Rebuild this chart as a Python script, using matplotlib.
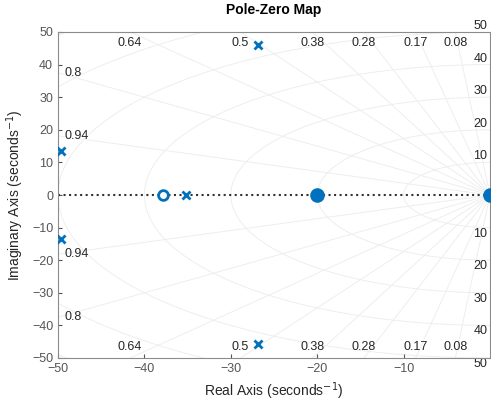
import numpy as np
import matplotlib.pyplot as plt

plt.rcParams['font.family'] = ['Liberation Sans', 'DejaVu Sans']

# poles and zeros (seconds^-1)
pole_re = [-49.7, -49.7, -35.2, -26.9, -26.9]
pole_im = [13.4, -13.4, 0.0, 46.0, -45.7]
zero_open_re = [-37.8]
zero_open_im = [0.0]
zero_fill_re = [-20.0, 0.0]
zero_fill_im = [0.0, 0.0]

zetas = [0.08, 0.17, 0.28, 0.38, 0.5, 0.64, 0.8, 0.94]
zeta_labels = ['0.08', '0.17', '0.28', '0.38', '0.5', '0.64', '0.8', '0.94']
wns = [10, 20, 30, 40, 50]
wn_labels = ['10', '20', '30', '40', '50']

blue = '#0072BD'
gridc = '#eeeeee'
txtc = '#262626'

fig = plt.figure(figsize=(4.91, 4.07), dpi=100)
ax = fig.add_axes([58 / 491, 49 / 407, 432 / 491, 326 / 407])

xlo, xhi, ylo, yhi = -50, 0, -50, 50

# damping lines
r = np.linspace(0, 100, 50)
for z in zetas:
    for s in (1, -1):
        ax.plot(-r * z, s * r * np.sqrt(1 - z ** 2), '-', color=gridc, lw=0.7, zorder=1)

# natural frequency circles
th = np.linspace(np.pi / 2, 3 * np.pi / 2, 200)
for w in wns + [60, 70]:
    ax.plot(w * np.cos(th), w * np.sin(th), '-', color=gridc, lw=0.7, zorder=1)

# damping labels on the edges
for z, lab in zip(zetas, zeta_labels):
    xt = -yhi * z / np.sqrt(1 - z ** 2)
    if xt > xlo:
        for s in (1, -1):
            ax.text(xt, s * 46.5, lab, ha='center', va='center', fontsize=9, color=txtc, zorder=2)
    else:
        yt = -xlo * np.sqrt(1 - z ** 2) / z
        for s in (1, -1):
            ax.text(-49.3, s * yt, lab, ha='left', va='center', fontsize=9, color=txtc, zorder=2)

# natural frequency labels
for w, lab in zip(wns, wn_labels):
    ax.text(-1.1, w, lab, ha='center', va='bottom', fontsize=9, color=txtc, clip_on=False, zorder=2)
    ax.text(-1.1, -w, lab, ha='center', va='top', fontsize=9, color=txtc, clip_on=False, zorder=2)

ax.plot([xlo, xhi], [0, 0], ':', color='#333333', lw=1.5, zorder=2)

ax.plot(pole_re, pole_im, 'x', color=blue, ms=6, mew=2, ls='none', zorder=4)
ax.plot(zero_open_re, zero_open_im, 'o', color=blue, mfc='white', ms=7, mew=2, ls='none', zorder=4)
ax.plot(zero_fill_re, zero_fill_im, 'o', color=blue, ms=9, mew=1.5, ls='none', zorder=4, clip_on=False)

ax.set_xlim(xlo, xhi)
ax.set_ylim(ylo, yhi)
ax.set_xticks([-50, -40, -30, -20, -10])
ax.set_yticks(np.arange(-50, 51, 10))
ax.tick_params(direction='in', labelsize=9, colors='#555555', length=3)
for sp in ax.spines.values():
    sp.set_color('#8c8c8c')

ax.set_title('Pole-Zero Map', fontsize=10, fontweight='bold', pad=13)
ax.set_xlabel('Real Axis (seconds$^{-1}$)', fontsize=10, color=txtc)
ax.set_ylabel('Imaginary Axis (seconds$^{-1}$)', fontsize=10, color=txtc)

fig.savefig('out.png', dpi=100)
